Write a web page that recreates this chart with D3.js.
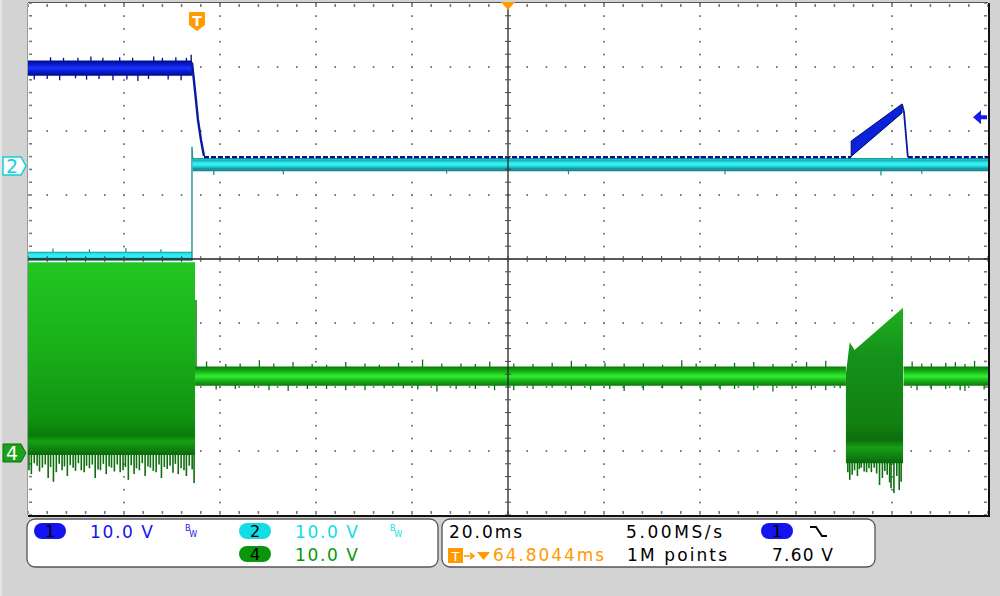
<!DOCTYPE html>
<html><head><meta charset="utf-8">
<script src="https://cdn.jsdelivr.net/npm/d3@7"></script>
<style>body{margin:0;background:#d3d3d3}svg{display:block}</style>
</head><body><svg id="c" width="1000" height="596"></svg>
<script>
// ---------------- data (time in ms, values in volts) ----------------
const timeDomain = [-35.2, 164.8];          // 20 ms/div, 10 div
const divDomain = [-4, 4];                  // 8 vertical divisions
const voltsPerDiv = 10;
const ch1OffsetDiv = 1.453, ch2OffsetDiv = 1.453, ch4OffsetDiv = -3.031;
const triggerTime = 0, triggerLevel = 7.6, centerTime = 64.8;

// CH1 (blue)
const ch1PreT = [-35.2, -1.04], ch1PreHi = [16.5, 16.5], ch1PreLo = [14.1, 14.1];
const ch1FallT = [-1.04, -0.42, 0.21, 0.83, 1.46], ch1FallV = [16.2, 11.9, 7.2, 4.1, 1.56];
const ch1PostT = [1.46, 136.3], ch1PostV = [1.4, 1.4];
const ch1TailT = [148.1, 164.8], ch1TailV = [1.4, 1.4];
const ch1RampT = [136.3, 146.9], ch1RampHi = [3.9, 9.7], ch1RampLo = [1.5, 8.3];
const ch1DropT = [146.9, 147.3, 148.1], ch1DropV = [9.6, 8.4, 1.4];
const ch1UpSpikeT = [-30.5, -27.8, -24.8, -22.1, -19.6, -16.1, -13.4, -9.0, -7.2, -4.4, -2.2, -1.2];
const ch1UpSpikeV = [17.0, 16.9, 16.9, 17.1, 16.9, 17.0, 16.9, 17.1, 16.9, 17.0, 16.9, 17.4];
const ch1DnSpikeT = [-33.9, -31.2, -28.6, -25.3, -23.0, -20.4, -17.5, -14.6, -12.3, -10.1, -6.0, -3.3];
const ch1DnSpikeV = [13.5, 13.6, 13.4, 13.7, 13.5, 13.6, 13.4, 13.5, 13.3, 13.6, 13.5, 13.4];

// CH2 (cyan)
const ch2PreT = [-35.2, -1.04], ch2PreHi = [-13.4, -13.4], ch2PreLo = [-14.8, -14.8];
const ch2EdgeT = [-1.04, -1.04, -0.9], ch2EdgeV = [-14.8, 3.0, 1.0];
const ch2PostT = [-0.9, 164.8], ch2PostHi = [1.25, 1.25], ch2PostLo = [-0.8, -0.8];
const ch2PreSpikeT = [-30.0, -22.4, -14.8, -7.5], ch2PreSpikeV = [-12.9, -13.0, -12.8, -13.0];
const ch2PostSpikeT = [3.5, 18.0, 52.0, 77.4, 110.0, 142.5, 151.0], ch2PostSpikeV = [-1.4, -1.3, -1.2, -1.3, -1.3, -1.5, -1.2];

// CH4 (green)
const ch4PreT = [-35.2, -0.4], ch4PreHi = [29.8, 29.8], ch4PreLo = [-0.3, -0.3];
const ch4PreSpikeT = [-35.0, -34.5, -33.9, -33.3, -32.8, -32.2, -31.6, -31.0, -30.5, -29.9, -29.3, -28.7, -28.1, -27.6, -27.0, -26.4, -25.8, -25.3, -24.7, -24.1, -23.5, -23.0, -22.4, -21.8, -21.2, -20.6, -20.1, -19.5, -18.9, -18.3, -17.8, -17.2, -16.6, -16.0, -15.4, -14.9, -14.3, -13.7, -13.1, -12.6, -12.0, -11.4, -10.8, -10.2, -9.7, -9.1, -8.5, -7.9, -7.4, -6.8, -6.2, -5.6, -5.0, -4.5, -3.9, -3.3, -2.7, -2.2, -1.6, -1.0, -0.6];
const ch4PreSpikeV = [-2.7, -3.3, -1.6, -2.0, -2.9, -2.3, -1.8, -3.9, -2.2, -4.5, -3.0, -1.7, -2.7, -2.1, -3.6, -1.9, -2.3, -2.8, -1.6, -2.7, -3.0, -2.0, -2.4, -1.8, -3.9, -2.6, -2.7, -1.7, -3.3, -2.1, -2.3, -2.9, -1.8, -3.0, -2.7, -2.2, -4.2, -1.9, -3.3, -2.4, -2.7, -1.6, -3.6, -2.1, -2.3, -2.8, -3.0, -1.8, -3.9, -2.2, -2.5, -2.0, -3.1, -1.7, -3.3, -2.4, -2.7, -3.6, -2.0, -2.6, -4.7];
const ch4StepT = [-0.2, -0.2], ch4StepV = [23.9, 12.2];
const ch4PostSegs = [[-0.4, 135.2], [147.2, 164.8]], ch4PostHi = 13.5, ch4PostLo = 10.5;
const ch4UpSpikeT = [2, 6, 9, 13, 16, 20, 24, 27, 31, 35, 38, 42, 47, 51, 55, 58, 61, 66, 70, 74, 78, 81, 85, 89, 93, 97, 101, 104, 108, 112, 116, 120, 124, 127, 131, 149, 151, 153, 156, 158, 160, 162];
const ch4UpSpikeV = [14.3, 13.9, 14.0, 14.5, 14.0, 14.2, 13.9, 13.8, 14.2, 14.0, 13.8, 14.1, 14.6, 14.0, 14.0, 13.9, 14.3, 14.0, 13.9, 14.1, 14.4, 13.9, 14.1, 14.0, 14.0, 13.8, 14.5, 14.0, 13.9, 14.1, 14.2, 13.9, 14.0, 14.2, 14.4, 14.3, 14.0, 14.0, 14.1, 14.2, 13.9, 14.4];
const ch4DnSpikeT = [4, 8, 12, 15, 19, 23, 27, 31, 35, 39, 43, 46, 50, 54, 58, 62, 66, 70, 74, 78, 82, 86, 89, 93, 97, 101, 105, 109, 112, 116, 120, 124, 128, 131, 134, 150, 153, 156, 159, 160, 164];
const ch4DnSpikeV = [9.9, 10.0, 10.2, 9.8, 9.7, 10.0, 10.0, 9.8, 9.8, 10.1, 10.1, 9.9, 9.6, 10.0, 10.0, 9.8, 9.8, 10.0, 10.2, 9.9, 9.9, 10.0, 9.7, 9.8, 10.1, 10.0, 9.8, 9.9, 10.0, 9.8, 9.6, 10.0, 9.9, 9.8, 10.1, 9.8, 9.9, 10.0, 9.8, 9.7, 9.9];
const ch4BurstT = [135.2, 136.0, 137.0, 147.1], ch4BurstHi = [12.4, 17.3, 16.1, 22.7], ch4BurstLo = [-1.6, -1.6, -1.6, -1.6];
const ch4BurstSpikeT = [135.6, 136.0, 136.5, 137.0, 137.6, 138.0, 138.4, 139.0, 139.5, 140.0, 140.5, 141.1, 141.6, 142.2, 142.8, 143.3, 143.8, 144.3, 144.6, 145.2, 145.8, 146.3, 146.7];
const ch4BurstSpikeV = [-3.0, -4.2, -3.4, -2.7, -3.6, -2.5, -2.3, -2.9, -3.0, -2.4, -3.0, -2.3, -3.2, -5.0, -3.9, -2.8, -3.4, -4.6, -5.5, -6.25, -3.6, -5.8, -4.5];

// readout panel
const readLeft = [
  {ch: "1", scale: "10.0 V", bw: true, color: "#1414f0", row: 0, col: 0},
  {ch: "2", scale: "10.0 V", bw: true, color: "#10dde5", row: 0, col: 1},
  {ch: "4", scale: "10.0 V", bw: false, color: "#0a960a", row: 1, col: 1}
];
const timeScaleLabel = "20.0ms", sampleRateLabel = "5.00MS/s", recordLabel = "1M points";
const delayLabel = "64.8044ms", trigLevelLabel = "7.60 V", trigSource = "1";

// ---------------- drawing ----------------
const svg = d3.select("#c");
const x = d3.scaleLinear().domain(timeDomain).range([28, 988]);
const yd = d3.scaleLinear().domain(divDomain).range([515, 3]);
const y1 = v => yd(v / voltsPerDiv + ch1OffsetDiv);
const y2 = v => yd(v / voltsPerDiv + ch2OffsetDiv);
const y4 = v => yd(v / voltsPerDiv + ch4OffsetDiv);

const defs = svg.append("defs");
function grad(id, stops) {
  const g = defs.append("linearGradient").attr("id", id).attr("x1", 0).attr("y1", 0).attr("x2", 0).attr("y2", 1);
  stops.forEach(s => g.append("stop").attr("offset", s[0]).attr("stop-color", s[1]));
}
grad("gPre4", [[0, "#22c622"], [0.45, "#19b019"], [0.8, "#109410"], [0.9, "#0b7c0b"], [0.93, "#14a014"], [1, "#0a6c0a"]]);
grad("gBand4", [[0, "#0b760b"], [0.25, "#16b016"], [0.5, "#32ee32"], [0.75, "#16b016"], [1, "#0b760b"]]);
grad("gBurst4", [[0, "#1fb01f"], [0.3, "#15921a"], [0.75, "#118011"], [0.85, "#0c6e0c"], [0.9, "#16a016"], [1, "#0b680b"]]);
grad("gBand2", [[0, "#1a8e92"], [0.2, "#22e2e6"], [0.5, "#3af2f2"], [0.75, "#19c6cc"], [1, "#167c82"]]);
grad("gBand1", [[0, "#000a8a"], [0.3, "#0a1ed2"], [0.5, "#1a34ff"], [0.7, "#0a1ed2"], [1, "#000a8a"]]);

// background and graticule
svg.append("rect").attr("width", 1000).attr("height", 596).attr("fill", "#d3d3d3");
svg.append("rect").attr("x", 0).attr("y", 0).attr("width", 2).attr("height", 596).attr("fill", "#e4e4e4");
const [X0, X1] = timeDomain.map(x), [Y0, Y1] = [yd(4), yd(-4)];
svg.append("rect").attr("x", X0).attr("y", Y0).attr("width", X1 - X0).attr("height", Y1 - Y0).attr("fill", "#fff");

const g = svg.append("g");
const minorT = d3.range(0, 51).map(i => timeDomain[0] + i * 4);
const minorD = d3.range(0, 41).map(i => -4 + i * 0.2);
const majT = d3.range(1, 10).map(i => timeDomain[0] + i * 20);
const majD = d3.range(1, 8).map(i => -4 + i);
majT.filter((t, i) => i !== 4).forEach(t => {
  minorD.forEach(d => g.append("rect").attr("x", x(t) - 1).attr("y", yd(d) - 0.5).attr("width", 2).attr("height", 1.6).attr("fill", "#7a7a7a"));
});
majD.filter(d => d !== 0).forEach(d => {
  minorT.forEach(t => g.append("rect").attr("x", x(t) - 0.8).attr("y", yd(d) - 1).attr("width", 1.6).attr("height", 2).attr("fill", "#7a7a7a"));
});
minorT.forEach(t => {
  g.append("rect").attr("x", x(t) - 0.8).attr("y", Y0 + 1).attr("width", 1.6).attr("height", 3).attr("fill", "#7a7a7a");
  g.append("rect").attr("x", x(t) - 0.8).attr("y", Y1 - 4).attr("width", 1.6).attr("height", 3).attr("fill", "#7a7a7a");
});
minorD.forEach(d => {
  g.append("rect").attr("x", X0 + 1).attr("y", yd(d) - 0.8).attr("width", 3).attr("height", 1.6).attr("fill", "#7a7a7a");
  g.append("rect").attr("x", X1 - 4).attr("y", yd(d) - 0.8).attr("width", 3).attr("height", 1.6).attr("fill", "#7a7a7a");
});

const area = (xs, hi, lo, yf) => d3.area().x((d, i) => x(xs[i])).y0((d, i) => yf(lo[i])).y1((d, i) => yf(hi[i]))(xs);
const line = (xs, vs, yf) => d3.line().x((d, i) => x(xs[i])).y((d, i) => yf(vs[i]))(xs);
function spikes(ts, vs, base, yf, color, w) {
  ts.forEach((t, i) => svg.append("line").attr("x1", x(t)).attr("x2", x(t)).attr("y1", yf(base)).attr("y2", yf(vs[i]))
    .attr("stroke", color).attr("stroke-width", w || 1.3));
}
// CH4
svg.append("path").attr("d", area(ch4PreT, ch4PreHi, ch4PreLo, y4)).attr("fill", "url(#gPre4)");
spikes(ch4PreSpikeT, ch4PreSpikeV, 0.2, y4, "#0c6e0c", 1.6);
svg.append("path").attr("d", line(ch4StepT, ch4StepV, y4)).attr("stroke", "#0c7a0c").attr("stroke-width", 1.5).attr("fill", "none");
spikes(ch4UpSpikeT, ch4UpSpikeV, 13, y4, "#0b740b", 1.3);
spikes(ch4DnSpikeT, ch4DnSpikeV, 11, y4, "#0b740b", 1.3);
ch4PostSegs.forEach(s => {
  svg.append("path").attr("d", area(s, [ch4PostHi, ch4PostHi], [ch4PostLo, ch4PostLo], y4)).attr("fill", "url(#gBand4)");
});
svg.append("path").attr("d", area(ch4BurstT, ch4BurstHi, ch4BurstLo, y4)).attr("fill", "url(#gBurst4)");
spikes(ch4BurstSpikeT, ch4BurstSpikeV, -1.0, y4, "#0c6e0c", 1.6);

// CH2
spikes(ch2PreSpikeT, ch2PreSpikeV, -13.6, y2, "#1a8a8a", 1.2);
svg.append("path").attr("d", area(ch2PreT, ch2PreHi, ch2PreLo, y2)).attr("fill", "url(#gBand2)");
spikes(ch2PostSpikeT, ch2PostSpikeV, 0, y2, "#1a8a8a", 1.2);
svg.append("path").attr("d", area(ch2PostT, ch2PostHi, ch2PostLo, y2)).attr("fill", "url(#gBand2)");
svg.append("path").attr("d", line(ch2EdgeT, ch2EdgeV, y2)).attr("stroke", "#2a9a9a").attr("stroke-width", 1.5).attr("fill", "none");

// CH1
svg.append("path").attr("d", line(ch1PostT, ch1PostV, y1)).attr("stroke", "#0a0a90").attr("stroke-width", 2.2).attr("stroke-dasharray", "5,2").attr("fill", "none");
svg.append("path").attr("d", line(ch1TailT, ch1TailV, y1)).attr("stroke", "#0a0a90").attr("stroke-width", 2.2).attr("stroke-dasharray", "5,2").attr("fill", "none");
svg.append("path").attr("d", area(ch2PostT, [0.9, 0.9], [-0.5, -0.5], y2)).attr("fill", "url(#gBand2)").attr("opacity", 0.85);
spikes(ch1UpSpikeT, ch1UpSpikeV, 15.3, y1, "#000a8a", 1.3);
spikes(ch1DnSpikeT, ch1DnSpikeV, 15.3, y1, "#000a8a", 1.3);
svg.append("path").attr("d", area(ch1PreT, ch1PreHi, ch1PreLo, y1)).attr("fill", "url(#gBand1)");
svg.append("path").attr("d", line(ch1FallT, ch1FallV, y1)).attr("stroke", "#0a1aa0").attr("stroke-width", 2.4).attr("fill", "none");
svg.append("path").attr("d", area(ch1RampT, ch1RampHi, ch1RampLo, y1)).attr("fill", "#0a22d8").attr("stroke", "#00087a").attr("stroke-width", 1);
svg.append("path").attr("d", line(ch1DropT, ch1DropV, y1)).attr("stroke", "#0a1aa0").attr("stroke-width", 1.8).attr("fill", "none");

// center cross
const cx = x(centerTime), cy = yd(0);
svg.append("line").attr("x1", cx).attr("x2", cx).attr("y1", Y0).attr("y2", Y1).attr("stroke", "#222").attr("stroke-width", 1.3);
svg.append("line").attr("x1", X0).attr("x2", X1).attr("y1", cy).attr("y2", cy).attr("stroke", "#222").attr("stroke-width", 1.3);
minorD.forEach(d => svg.append("line").attr("x1", cx - 3).attr("x2", cx + 3).attr("y1", yd(d)).attr("y2", yd(d)).attr("stroke", "#444").attr("stroke-width", 1));
minorT.forEach(t => svg.append("line").attr("x1", x(t)).attr("x2", x(t)).attr("y1", cy - 3).attr("y2", cy + 3).attr("stroke", "#444").attr("stroke-width", 1));

// frame
svg.append("line").attr("x1", X0 - 0.5).attr("x2", X0 - 0.5).attr("y1", Y0).attr("y2", Y1).attr("stroke", "#9a9a9a").attr("stroke-width", 1);
svg.append("line").attr("x1", X0).attr("x2", X1).attr("y1", Y0 - 0.5).attr("y2", Y0 - 0.5).attr("stroke", "#555").attr("stroke-width", 1.2);
svg.append("line").attr("x1", X0).attr("x2", X1 + 1).attr("y1", Y1 + 1).attr("y2", Y1 + 1).attr("stroke", "#111").attr("stroke-width", 2);
svg.append("line").attr("x1", X1 + 1).attr("x2", X1 + 1).attr("y1", Y0).attr("y2", Y1 + 2).attr("stroke", "#111").attr("stroke-width", 2);

// markers
const orange = "#ff9a00";
const tx = x(triggerTime);
svg.append("path").attr("d", `M${tx - 7},12 h14 a1,1 0 0 1 1,1 v12 l-8,6 l-8,-6 v-12 a1,1 0 0 1 1,-1 z`).attr("fill", orange);
svg.append("text").attr("x", tx).attr("y", 26).attr("text-anchor", "middle").attr("font-family", "DejaVu Sans, sans-serif").attr("font-weight", "bold").attr("font-size", 14).attr("fill", "#fff").text("T");
svg.append("path").attr("d", `M${cx - 7},2 h14 l-7,8 z`).attr("fill", orange);
const ty = y1(triggerLevel);
svg.append("path").attr("d", `M${X1 - 15},${ty} l8,-7 v5 h6 v4 h-6 v5 z`).attr("fill", "#1a1ae6");
const gy2 = y2(0), gy4 = y4(0);
svg.append("path").attr("d", `M3,${gy2 - 9} h18 l5,9 l-5,9 h-18 z`).attr("fill", "#fff").attr("stroke", "#10d0d8").attr("stroke-width", 1.5);
svg.append("text").attr("x", 12).attr("y", gy2 + 7).attr("text-anchor", "middle").attr("font-family", "DejaVu Sans, sans-serif").attr("font-size", 19).attr("fill", "#10d0d8").text("2");
svg.append("path").attr("d", `M3,${gy4 - 9} h18 l5,9 l-5,9 h-18 z`).attr("fill", "#1aa21a").attr("stroke", "#0c700c").attr("stroke-width", 1);
svg.append("text").attr("x", 12).attr("y", gy4 + 7).attr("text-anchor", "middle").attr("font-family", "DejaVu Sans, sans-serif").attr("font-size", 19).attr("fill", "#fff").text("4");

// readout panels
svg.append("rect").attr("x", 27).attr("y", 519).attr("width", 411).attr("height", 48).attr("rx", 8).attr("fill", "#fff").attr("stroke", "#555").attr("stroke-width", 1.3);
svg.append("rect").attr("x", 442).attr("y", 519).attr("width", 433).attr("height", 48).attr("rx", 8).attr("fill", "#fff").attr("stroke", "#555").attr("stroke-width", 1.3);
const font = "Verdana, DejaVu Sans, sans-serif";
function pill(px, py, color, label) {
  svg.append("rect").attr("x", px).attr("y", py).attr("width", 32).attr("height", 16).attr("rx", 8).attr("fill", color);
  svg.append("text").attr("x", px + 16).attr("y", py + 14).attr("text-anchor", "middle").attr("font-family", font).attr("font-size", 16).attr("fill", "#000").text(label);
}
function txt(tx_, ty_, s, color, len) {
  const t = svg.append("text").attr("x", tx_).attr("y", ty_).attr("font-family", font).attr("font-size", 17).attr("fill", color).text(s);
  if (len) t.attr("textLength", len).attr("lengthAdjust", "spacing");
}
readLeft.forEach(r => {
  const px = r.col === 0 ? 34 : 239, py = r.row === 0 ? 523 : 546;
  pill(px, py, r.color, r.ch);
  txt(px + 56, py + 15, r.scale, r.color, 63);
  if (r.bw) {
    const b = svg.append("text").attr("x", px + 151).attr("y", py + 8).attr("font-family", font).attr("font-size", 8).attr("fill", r.color);
    b.append("tspan").text("B");
    b.append("tspan").attr("dy", 6).attr("dx", -1).text("W");
  }
});
txt(449, 538, timeScaleLabel, "#000", 73);
txt(626, 538, sampleRateLabel, "#000", 96);
pill(761, 523, "#1414f0", trigSource);
svg.append("path").attr("d", "M810,527 h6 l6,9 h5").attr("stroke", "#000").attr("stroke-width", 2).attr("fill", "none");
svg.append("rect").attr("x", 448).attr("y", 548).attr("width", 15).attr("height", 15).attr("fill", orange);
svg.append("text").attr("x", 455.5).attr("y", 561).attr("text-anchor", "middle").attr("font-family", font).attr("font-size", 13).attr("fill", "#fff").text("T");
svg.append("path").attr("d", "M464,556 h10 M470,553 l4,3 l-4,3").attr("stroke", orange).attr("stroke-width", 1.6).attr("fill", "none");
svg.append("path").attr("d", "M477,552 h13 l-6.5,8 z").attr("fill", orange);
txt(493, 561, delayLabel, orange, 111);
txt(627, 561, recordLabel, "#000", 100);
txt(772, 561, trigLevelLabel, "#000", 61);
</script></body></html>
